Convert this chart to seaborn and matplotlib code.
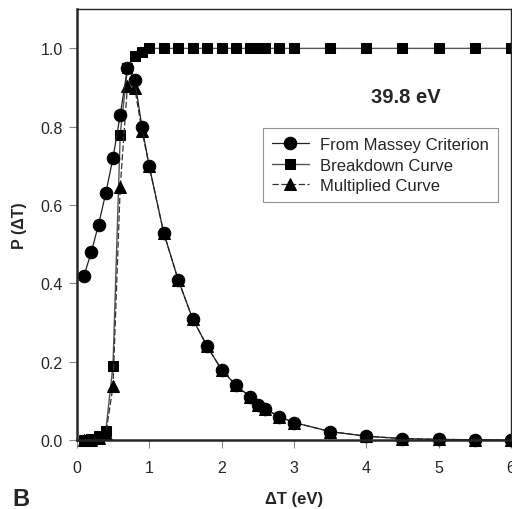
import pandas as pd
import numpy as np
import matplotlib
matplotlib.use("Agg")
import matplotlib.pyplot as plt
import seaborn as sns

# delta T values (eV)
dT = [0.1, 0.2, 0.3, 0.4, 0.5, 0.6, 0.7, 0.8, 0.9, 1.0, 1.2, 1.4, 1.6, 1.8, 2.0,
      2.2, 2.4, 2.5, 2.6, 2.8, 3.0, 3.5, 4.0, 4.5, 5.0, 5.5, 6.0]

massey = [0.42, 0.48, 0.55, 0.63, 0.72, 0.83, 0.95, 0.92, 0.80, 0.70, 0.53, 0.41,
          0.31, 0.24, 0.18, 0.14, 0.11, 0.09, 0.08, 0.06, 0.045, 0.022, 0.010,
          0.004, 0.002, 0.001, 0.0]
breakdown = [0.0, 0.003, 0.01, 0.023, 0.19, 0.78, 0.95, 0.98, 0.99, 1.0, 1.0, 1.0,
             1.0, 1.0, 1.0, 1.0, 1.0, 1.0, 1.0, 1.0, 1.0, 1.0, 1.0, 1.0, 1.0, 1.0, 1.0]
multiplied = [0.0, 0.001, 0.005, 0.015, 0.137, 0.646, 0.905, 0.90, 0.79, 0.70, 0.53,
              0.41, 0.31, 0.24, 0.18, 0.14, 0.11, 0.09, 0.08, 0.06, 0.045, 0.022,
              0.010, 0.004, 0.002, 0.001, 0.0]

df = pd.DataFrame({"dT": dT, "massey": massey, "breakdown": breakdown,
                   "multiplied": multiplied})

sns.set_style("ticks")
plt.rcParams["font.family"] = ["Liberation Sans", "DejaVu Sans"]

fig = plt.figure(figsize=(5.12, 5.10), dpi=100)
ax = fig.add_axes([0.150, 0.135, 0.848, 0.845])

sns.lineplot(data=df, x="dT", y="breakdown", ax=ax, color="#555555", lw=1.0,
             marker="s", markersize=7.5, markeredgecolor="black",
             markerfacecolor="black", clip_on=False, label="Breakdown Curve")
sns.lineplot(data=df, x="dT", y="multiplied", ax=ax, color="#333333", lw=0.9,
             ls=(0, (5, 2)), marker="^", markersize=8, markeredgecolor="black",
             markerfacecolor="black", clip_on=False, label="Multiplied Curve")
sns.lineplot(data=df, x="dT", y="massey", ax=ax, color="#222222", lw=0.9,
             marker="o", markersize=9, markeredgecolor="black",
             markerfacecolor="black", clip_on=False, label="From Massey Criterion")

ax.set_xlim(0, 6)
ax.set_ylim(0, 1.1)
ax.set_xticks([0, 1, 2, 3, 4, 5, 6])
ax.set_yticks([0.0, 0.2, 0.4, 0.6, 0.8, 1.0])
ax.set_yticklabels(["0.0", "0.2", "0.4", "0.6", "0.8", "1.0"])
ax.tick_params(labelsize=11.5, length=6, width=0.8, color="#888888")
ax.tick_params(axis="x", pad=8)
ax.tick_params(axis="y", pad=4)

for s in ["top", "right"]:
    ax.spines[s].set_linewidth(1.0)
for s in ["left", "bottom"]:
    ax.spines[s].set_linewidth(1.8)

ax.set_xlabel("\u0394T (eV)", fontsize=12, fontweight="bold")
ax.xaxis.set_label_coords(0.5, -0.118)
ax.set_ylabel("P (\u0394T)", fontsize=11.5, fontweight="bold", labelpad=10)

ax.text(4.55, 0.878, "39.8 eV", fontsize=14.5, fontweight="bold", ha="center",
        va="center")

h, l = ax.get_legend_handles_labels()
order = [2, 0, 1]
leg = ax.legend([h[i] for i in order], [l[i] for i in order],
                loc="upper left", bbox_to_anchor=(0.4286, 0.724), fontsize=12,
                frameon=True, fancybox=False, edgecolor="#777777",
                handlelength=2.2, handletextpad=0.65, borderpad=0.55,
                labelspacing=0.32, borderaxespad=0)
leg.get_frame().set_linewidth(0.8)

fig.text(0.025, 0.008, "B", fontsize=17, fontweight="bold")

fig.savefig("out.png", dpi=100)
